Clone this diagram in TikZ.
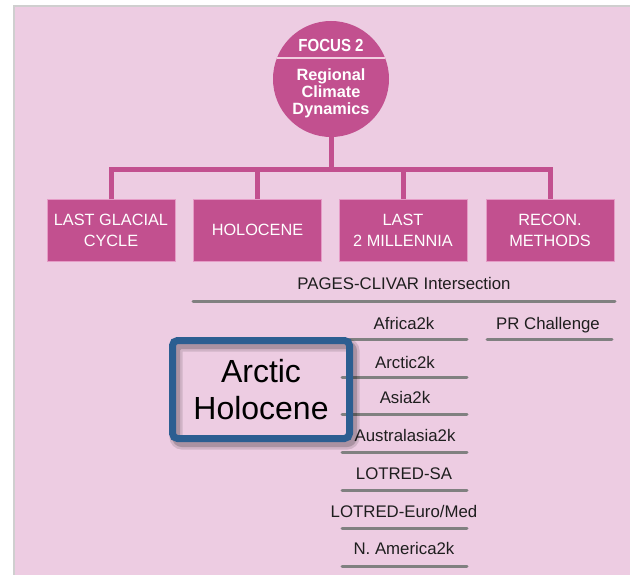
\documentclass[tikz,border=0pt]{standalone}
\usepackage{fontspec}
\setmainfont{Liberation Sans}
\usepackage{graphicx}
\usetikzlibrary{calc}
\definecolor{bgpink}{HTML}{EDCCE2}
\definecolor{mag}{HTML}{C2508F}
\definecolor{magedge}{HTML}{E59BC6}
\definecolor{sepline}{HTML}{F2CDE0}
\definecolor{ulgray}{HTML}{808080}
\definecolor{frameblue}{HTML}{2C5E91}
\definecolor{txt}{HTML}{1E1E1E}
\definecolor{edgegray}{HTML}{CFCFCF}
\tikzset{
  conn/.style={draw=mag, line width=5pt, line join=miter},
  catbox/.style={draw=magedge, fill=mag, line width=0.8pt, minimum width=128pt,
    minimum height=62pt, text=white, align=center, inner sep=0pt,
    font=\fontsize{16.3}{21}\selectfont},
  glabel/.style={text=txt, font=\fontsize{16.8}{19}\selectfont, inner sep=0pt,
    text height=12pt, text depth=0pt},
  uline/.style={draw=ulgray, line width=3pt, line cap=round},
}
\begin{document}
\begin{tikzpicture}[x=1pt,y=-1pt]
\useasboundingbox (0,0) rectangle (630,575);
% background
\fill[bgpink] (14,6) rectangle (630,575);
\draw[edgegray, line width=1.5pt] (14,575) -- (14,6) -- (630,6);

% focus circle
\node[circle, fill=mag, minimum size=116pt, inner sep=0pt] (focus) at (331,79) {};
\draw[sepline, line width=1.6pt] ($(focus.center)+(-54,-21)$) -- ($(focus.center)+(54,-21)$);
\node[text=white, inner sep=0pt, font=\bfseries\fontsize{17.5}{20}\selectfont,
  text height=12.5pt, text depth=0pt] (ftitle) at (331,45) {\scalebox{0.86}[1]{FOCUS 2}};
\node[text=white, inner sep=0pt, align=center,
  font=\bfseries\fontsize{16.3}{17}\selectfont] (fsub) at (331,93) {Regional\\Climate\\Dynamics};

% category boxes
\node[catbox] (b1) at (111,230) {LAST GLACIAL\\CYCLE};
\node[catbox] (b2) at (257.5,230) {HOLOCENE};
\node[catbox] (b3) at (403,230) {LAST\\2 MILLENNIA};
\node[catbox] (b4) at (550,230) {RECON.\\METHODS};

% tree connectors
\coordinate (bar) at (0,169.5);
\draw[conn] (b1.north) -- (b1.north |- bar) -- (b4.north |- bar) -- (b4.north);
\draw[conn] (b2.north) -- (b2.north |- bar);
\draw[conn] (b3.north) -- (b3.north |- bar);
\draw[conn] ($(focus.south)+(0,-2)$) -- (focus.south |- bar);

% underlines
\draw[uline] (193,301) -- (615,301);
\draw[uline] (487,339) -- (612,339);
\foreach \yy in {339,377,414,452,490,528,566}
  \draw[uline] (342,\yy) -- (467,\yy);

% labels
\node[glabel] (pc) at (404,284) {PAGES-CLIVAR Intersection};
\node[glabel] (af) at (404,323) {Africa2k};
\node[glabel] (pr) at (548,323) {PR Challenge};
\node[glabel] (ar) at (405,362) {Arctic2k};
\node[glabel] (as) at (405,397) {Asia2k};
\node[glabel] (au) at (405,435) {Australasia2k};
\node[glabel] (ls) at (404,473) {LOTRED-SA};
\node[glabel] (le) at (404,511) {LOTRED-Euro/Med};
\node[glabel] (na) at (404,548) {N. America2k};

% highlighted box with shadow
\draw[black, opacity=0.12, line width=13pt, rounded corners=6pt] (176,345) rectangle (353,443);
\draw[black, opacity=0.18, line width=8pt, rounded corners=6pt] (176,345) rectangle (353,443);
\node[draw=frameblue, line width=7pt, rounded corners=5pt, minimum width=177pt,
  minimum height=98pt, inner sep=0pt, align=center, text=black,
  font=\fontsize{32}{37}\selectfont] (ah) at (261,389.5) {Arctic\\Holocene};
\end{tikzpicture}
\end{document}
